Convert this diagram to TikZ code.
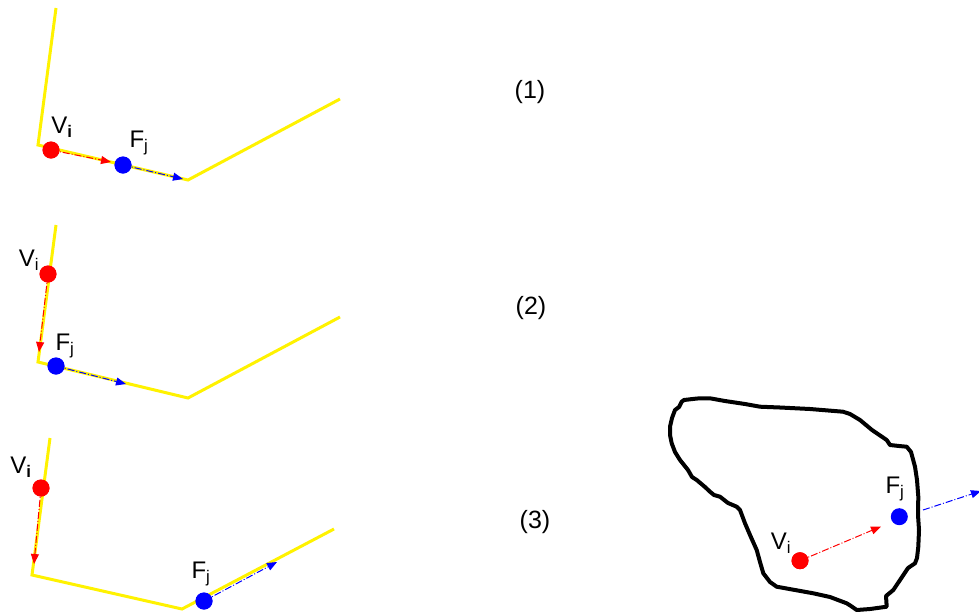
\documentclass[tikz,border=0pt]{standalone}
\usepackage{fontspec}
\setmainfont{Liberation Sans}
\usetikzlibrary{arrows.meta}
\begin{document}
\begin{tikzpicture}[x=1pt,y=-1pt,
  path/.style={draw=yellow,line width=3pt,line join=miter},
  vdot/.style={circle,fill=red,inner sep=0pt,minimum size=17pt},
  fdot/.style={circle,fill=blue,inner sep=0pt,minimum size=17pt},
  varrow/.style={red,line width=1pt,dash pattern=on 7pt off 2pt on 1pt off 2pt,-{Triangle[length=10pt,width=8pt]}},
  farrow/.style={blue,line width=1pt,dash pattern=on 7pt off 2pt on 1pt off 2pt,-{Triangle[length=10pt,width=8pt]}},
  lbl/.style={font=\fontsize{24}{26}\selectfont,inner sep=0pt},
  num/.style={font=\fontsize{25}{27}\selectfont,inner sep=0pt},
  blob/.style={draw=black,line width=4pt,line join=round}]
\useasboundingbox (0,0) rectangle (979,611);
% panel 1
\coordinate (p1a) at (56,8); \coordinate (p1b) at (38,145);
\coordinate (p1c) at (188,180); \coordinate (p1d) at (340,99);
\draw[path] (p1a) -- (p1b) -- (p1c) -- (p1d);
\coordinate (v1e) at (111,162); \coordinate (f1e) at (183,179);
\node[vdot] (v1) at (51,150) {};
\node[fdot] (f1) at (123,165) {};
\draw[varrow] (v1.center) -- (v1e);
\draw[farrow] (f1.center) -- (f1e);
\node[vdot] at (51,150) {};
\node[fdot] at (123,165) {};
\node[lbl] (lv1) at (62,127) {V\textsubscript{\textbf{i}}};
\node[lbl] (lf1) at (139,143) {F\textsubscript{j}};
\node[num] (n1) at (530,92) {(1)};
% panel 2
\coordinate (p2a) at (56,225); \coordinate (p2b) at (38,362);
\coordinate (p2c) at (188,398); \coordinate (p2d) at (340,317);
\draw[path] (p2a) -- (p2b) -- (p2c) -- (p2d);
\coordinate (v2e) at (39,352); \coordinate (f2e) at (126,384);
\node[vdot] (v2) at (48,274) {};
\node[fdot] (f2) at (56,366) {};
\draw[varrow] (v2.center) -- (v2e);
\draw[farrow] (f2.center) -- (f2e);
\node[vdot] at (48,274) {};
\node[fdot] at (56,366) {};
\node[lbl] (lv2) at (29,260) {V\textsubscript{i}};
\node[lbl] (lf2) at (65,346) {F\textsubscript{j}};
\node[num] (n2) at (531,308) {(2)};
% panel 3
\coordinate (p3a) at (50,438); \coordinate (p3b) at (32,575);
\coordinate (p3c) at (182,609); \coordinate (p3d) at (334,529);
\draw[path] (p3a) -- (p3b) -- (p3c) -- (p3d);
\coordinate (v3e) at (34,564); \coordinate (f3e) at (277,562);
\node[vdot] (v3) at (41,488) {};
\node[fdot] (f3) at (204,601) {};
\draw[varrow] (v3.center) -- (v3e);
\draw[farrow] (f3.center) -- (f3e);
\node[vdot] at (41,488) {};
\node[fdot] at (204,601) {};
\node[lbl] (lv3) at (21,467) {V\textsubscript{\textbf{i}}};
\node[lbl] (lf3) at (201,574) {F\textsubscript{j}};
\node[num] (n3) at (535,522) {(3)};
% blob
\draw[blob] (681.7,401.7) -- (684,400) -- (697,398.5) -- (710,398.3) -- (725,401) -- (745,404)
  -- (760,406.7) -- (780,407.5) -- (810,409) -- (843,411.7) -- (850,414) -- (860,420)
  -- (872,430) -- (886.7,440) -- (890,445) -- (899,446) -- (906.7,446.7) -- (911,452)
  -- (915,466.7) -- (917,480) -- (918.3,496.7) -- (918,515) -- (919,530) -- (918.3,546.7)
  -- (917,558) -- (915,563.3) -- (908,568) -- (900,580) -- (893.3,590) -- (886,596)
  -- (886.7,606.7) -- (870,609) -- (856.7,610) -- (851,606) -- (846.7,603.3) -- (830,597)
  -- (813.3,593.3) -- (795,590) -- (776.7,586.7) -- (770,582) -- (763.3,573.3) -- (760,562)
  -- (756.7,550) -- (750,535) -- (745,523.3) -- (740,510) -- (736.7,506.7) -- (728,503)
  -- (720,496.7) -- (714,495) -- (710,491.7) -- (705,487) -- (696.7,480) -- (692,477)
  -- (688,470) -- (680,460) -- (675,452) -- (671.7,443.3) -- (670,435) -- (670,426.7)
  -- (672,418) -- (675,410) -- (679,407) -- cycle;
\coordinate (v4e) at (881,526.5); \coordinate (f4s) at (923,510); \coordinate (f4e) at (981,491);
\node[vdot] (v4) at (800,560.7) {};
\node[fdot] (f4) at (899.3,516.7) {};
\draw[varrow] (v4.center) -- (v4e);
\draw[farrow] (f4s) -- (f4e);
\node[vdot] at (800,560.7) {};
\node[lbl] (lv4) at (781,543) {V\textsubscript{i}};
\node[lbl] (lf4) at (895,489) {F\textsubscript{j}};
\end{tikzpicture}
\end{document}
